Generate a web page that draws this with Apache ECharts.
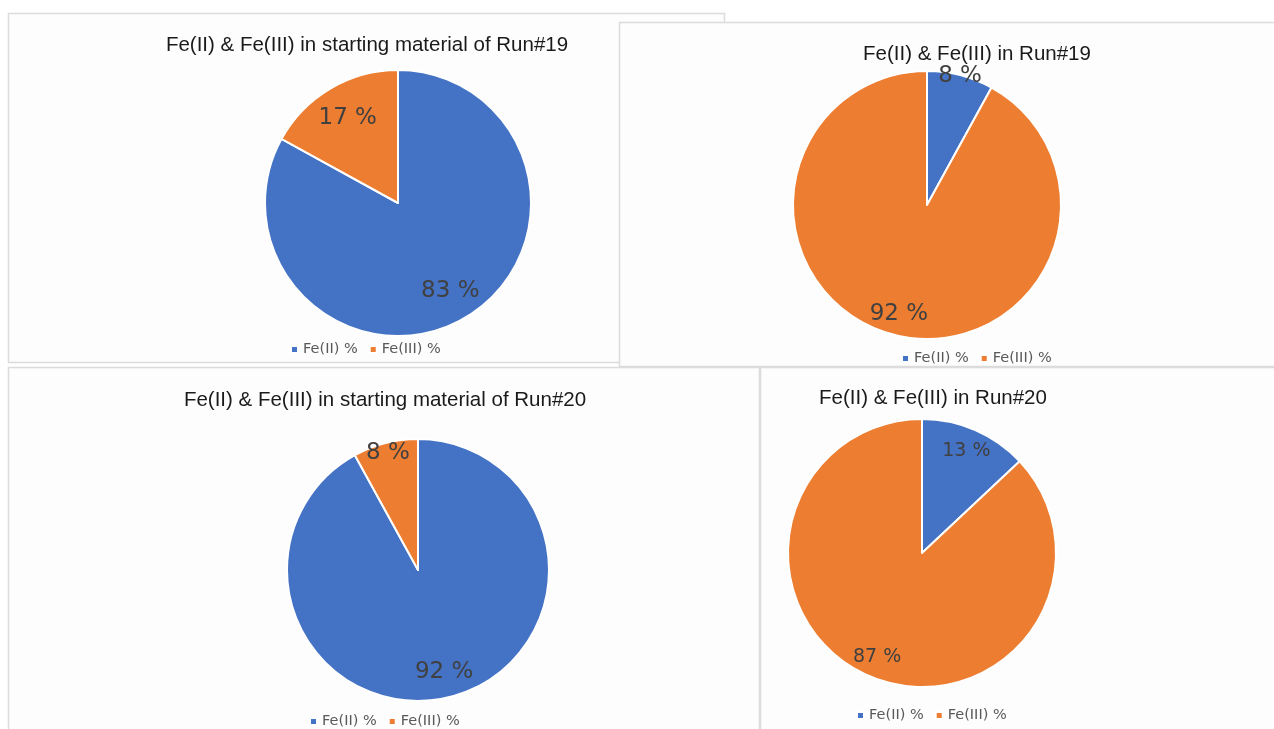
<!DOCTYPE html>
<html>
<head>
<meta charset="utf-8">
<script src="https://cdn.jsdelivr.net/npm/echarts@6/dist/echarts.min.js"></script>
<style>
html,body{margin:0;padding:0;background:#fff;}
#c{width:1274px;height:729px;}
</style>
</head>
<body>
<div id="c"></div>
<script>
// ---- data ----
const categories = ['Fe(II) %', 'Fe(III) %'];
const titles = [
  'Fe(II) & Fe(III) in starting material of Run#19',
  'Fe(II) & Fe(III) in Run#19',
  'Fe(II) & Fe(III) in starting material of Run#20',
  'Fe(II) & Fe(III) in Run#20'
];
const run19Start = [83, 17];
const run19 = [8, 92];
const run20Start = [92, 8];
const run20 = [13, 87];
const valuesList = [run19Start, run19, run20Start, run20];

const colors = ['#4472C4', '#ED7D31'];

// ---- layout (styles only) ----
const panels = [
  {x: 8.5, y: 13.5, w: 716, h: 349},
  {x: 619.5, y: 22.5, w: 670, h: 344},
  {x: 8.5, y: 367.5, w: 751, h: 380},
  {x: 760.5, y: 367.5, w: 530, h: 380}
];
const layout = [
  {tx: 367, ty: 47, tSize: 20.5, center: [398, 203], r: 133, lx: 290, ly: 351, labSize: 23, ratios: [0.75, 0.72]},
  {tx: 977, ty: 56, tSize: 20.5, center: [927, 205], r: 134, lx: 901, ly: 360, labSize: 23, ratios: [0.97, 0.82]},
  {tx: 385, ty: 402, tSize: 20.5, center: [418, 570], r: 131, lx: 309, ly: 723, labSize: 23, ratios: [0.78, 0.9]},
  {tx: 933, ty: 400, tSize: 20.5, center: [922, 553], r: 134, lx: 856, ly: 717, labSize: 19, ratios: [0.81, 0.82]}
];

const chart = echarts.init(document.getElementById('c'), null, {renderer: 'canvas'});

const title = [], legend = [], series = [];
const graphic = panels.map(p => ({
  type: 'rect', z: -10,
  shape: {x: p.x, y: p.y, width: p.w, height: p.h},
  style: {fill: '#fdfdfd', stroke: '#dcdcdc', lineWidth: 1.5}
}));

valuesList.forEach((vals, i) => {
  const L = layout[i];
  const data = categories.map((c, k) => ({name: c, value: vals[k]}));
  title.push({
    text: titles[i], left: L.tx, top: L.ty - L.tSize * 0.6, textAlign: 'center', padding: 0,
    textStyle: {fontFamily: 'Liberation Sans', fontSize: L.tSize, fontWeight: 'normal', color: '#1a1a1a'}
  });
  legend.push({
    data: categories, left: L.lx, top: L.ly - 9, padding: 0,
    orient: 'horizontal', itemWidth: 7, itemHeight: 7, itemGap: 11,
    icon: 'rect', selectedMode: false,
    textStyle: {fontFamily: 'DejaVu Sans', fontSize: 14.5, color: '#595959'}
  });
  series.push({
    type: 'pie', name: 'pie' + i, center: L.center, radius: [0, L.r],
    startAngle: 90, clockwise: true, silent: true,
    color: colors,
    data: data,
    itemStyle: {borderColor: '#ffffff', borderWidth: 2},
    label: {show: false}, labelLine: {show: false}
  });
  // transparent rings used only to place each value label at its radius ratio
  L.ratios.forEach((k, j) => {
    series.push({
      type: 'pie', name: 'lab' + i + '_' + j, center: L.center,
      radius: [L.r * (k - 0.15), L.r * (k + 0.15)],
      startAngle: 90, clockwise: true, silent: true,
      color: colors,
      data: data.map((d, m) => ({
        name: d.name, value: d.value,
        label: {show: m === j}
      })),
      itemStyle: {color: 'rgba(0,0,0,0)', borderWidth: 0},
      label: {
        position: 'inside', formatter: '{c} %',
        fontFamily: 'DejaVu Sans', fontSize: L.labSize, color: '#404040'
      },
      labelLine: {show: false},
      emphasis: {disabled: true}
    });
  });
});

chart.setOption({
  animation: false,
  backgroundColor: '#ffffff',
  graphic: graphic,
  title: title,
  legend: legend,
  series: series
});
</script>
</body>
</html>
